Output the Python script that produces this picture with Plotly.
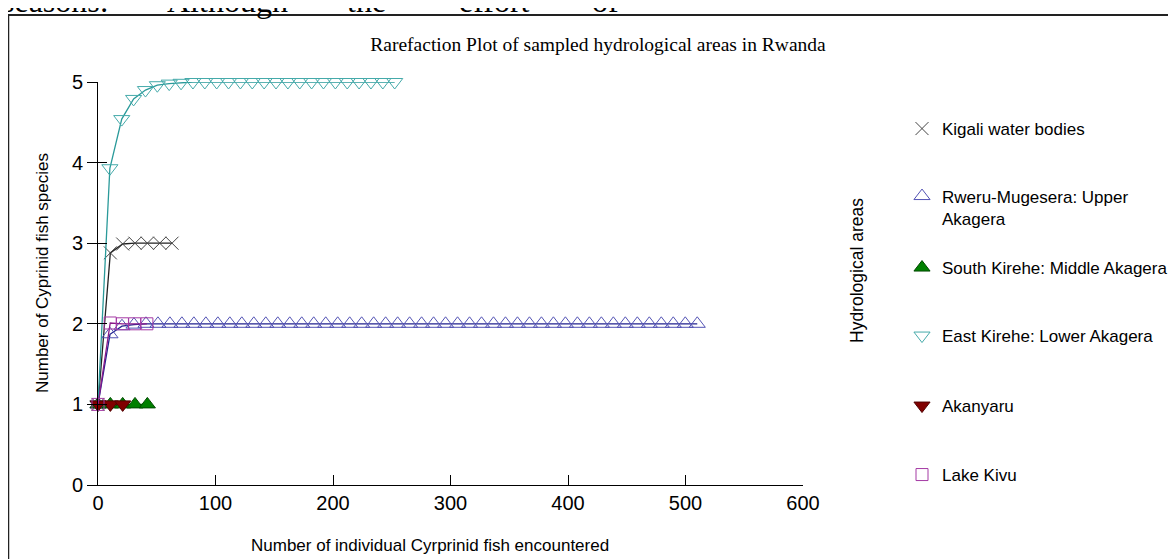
import plotly.graph_objects as go

# ---------------- data ----------------
kigali_x = [0, 10.5, 21, 31.5, 42, 52.5, 63]
kigali_y = [1, 2.88, 2.99, 3, 3, 3, 3]

rweru_x = [0, 10.2, 20.4, 30.6, 40.8, 51, 61.2, 71.4, 81.6, 91.8, 102,
           112.2, 122.4, 132.6, 142.8, 153, 163.2, 173.4, 183.6, 193.8, 204,
           214.2, 224.4, 234.6, 244.8, 255, 265.2, 275.4, 285.6, 295.8, 306,
           316.2, 326.4, 336.6, 346.8, 357, 367.2, 377.4, 387.6, 397.8, 408,
           418.2, 428.4, 438.6, 448.8, 459, 469.2, 479.4, 489.6, 499.8, 510]
rweru_y = [1, 1.87, 1.97, 1.99, 2, 2, 2, 2, 2, 2, 2,
           2, 2, 2, 2, 2, 2, 2, 2, 2, 2,
           2, 2, 2, 2, 2, 2, 2, 2, 2, 2,
           2, 2, 2, 2, 2, 2, 2, 2, 2, 2,
           2, 2, 2, 2, 2, 2, 2, 2, 2, 2]

south_x = [0, 10.5, 21, 31.5, 42]
south_y = [1, 1, 1, 1, 1]

east_x = [0, 10.1, 20.2, 30.3, 40.4, 50.5, 60.6, 70.7, 80.8, 90.9, 101,
          111.1, 121.2, 131.3, 141.4, 151.5, 161.6, 171.7, 181.8, 191.9, 202,
          212.1, 222.2, 232.3, 242.4, 252.5]
east_y = [1, 3.93, 4.54, 4.79, 4.9, 4.96, 4.98, 4.99, 5, 5, 5,
          5, 5, 5, 5, 5, 5, 5, 5, 5, 5,
          5, 5, 5, 5, 5]

akanyaru_x = [0, 10.5, 21]
akanyaru_y = [1, 1, 1]

kivu_x = [0, 10.4, 20.8, 31.2, 41.6]
kivu_y = [1, 2.01, 2, 2, 2]

names = ["Kigali water bodies", "Rweru-Mugesera: Upper<br>Akagera",
         "South Kirehe: Middle Akagera", "East Kirehe: Lower Akagera",
         "Akanyaru", "Lake Kivu"]

x_ticks = [0, 100, 200, 300, 400, 500, 600]
y_ticks = [0, 1, 2, 3, 4, 5]

# ---------------- figure ----------------
fig = go.Figure()

series = [
    (kigali_x, kigali_y, dict(symbol="x-thin", size=13, color="#444444",
                              line=dict(color="#444444", width=1)), "#222222"),
    (rweru_x, rweru_y, dict(symbol="triangle-up-open", size=14, color="#5252b4",
                            line=dict(width=1)), "#22228f"),
    (south_x, south_y, dict(symbol="triangle-up", size=14, color="#008000",
                            line=dict(color="#004a00", width=1)), "#007000"),
    (east_x, east_y, dict(symbol="triangle-down-open", size=14, color="#45aaaa",
                          line=dict(width=1)), "#2a9a9a"),
    (akanyaru_x, akanyaru_y, dict(symbol="triangle-down", size=14, color="#800000",
                                  line=dict(color="#500000", width=1)), "#700000"),
    (kivu_x, kivu_y, dict(symbol="square-open", size=12, color="#a43aa4",
                          line=dict(width=1)), "#8a1a8a"),
]

legend_ids = ["legend", "legend2", "legend3", "legend4", "legend5", "legend6"]
for (xs, ys, mk, lc), nm, lg in zip(series, names, legend_ids):
    fig.add_trace(go.Scatter(x=xs, y=ys, mode="lines", line=dict(color=lc, width=1.3),
                             cliponaxis=False, showlegend=False, hoverinfo="skip"))
    fig.add_trace(go.Scatter(x=xs, y=ys, mode="markers", name=nm, marker=mk,
                             cliponaxis=False, legend=lg))

# overlay axis only to get ticks crossing the y axis line
fig.add_trace(go.Scatter(x=[], y=[], yaxis="y2", showlegend=False))

# The page body has an 8px margin: figure is 1168x551 drawn at page offset (8, 8).
OFF = 8
FW, FH = 1176 - OFF, 559 - OFF
# plot area in page pixels
L, R, T, B = 98, 803, 82, 485
def px_x(p):
    return (p - L) / (R - L)
def px_y(p):
    return (B - p) / (B - T)

legend_centers = [129, 207.5, 268, 336, 406, 475]
leg_font = dict(family="Liberation Sans, Arial, sans-serif", size=17, color="#000000")
for lg, cy in zip(legend_ids, legend_centers):
    fig.update_layout({lg: dict(x=px_x(902), xanchor="left", y=px_y(cy), yanchor="middle",
                                font=leg_font, bgcolor="rgba(0,0,0,0)",
                                valign="top", itemsizing="trace")})

sans = "Liberation Sans, Arial, sans-serif"
serif = "Liberation Serif, Times New Roman, serif"

fig.update_layout(
    width=FW, height=FH,
    margin=dict(l=L - OFF, r=FW - (R - OFF), t=T - OFF, b=FH - (B - OFF), pad=0,
                autoexpand=False),
    paper_bgcolor="white", plot_bgcolor="white",
    title=dict(text="Rarefaction Plot of sampled hydrological areas in Rwanda",
               font=dict(family=serif, size=19.5, color="#000000"),
               xref="container", x=(598 - OFF) / FW, xanchor="center",
               yref="container", y=1 - (44 - OFF) / FH, yanchor="middle"),
    xaxis=dict(range=[0, 600], tickvals=x_ticks, ticks="inside", ticklen=10,
               tickcolor="#000000", showline=True, linecolor="#000000", linewidth=1,
               showgrid=False, zeroline=False,
               tickfont=dict(family=sans, size=20, color="#000000")),
    yaxis=dict(range=[0, 5], tickvals=y_ticks, ticks="outside", ticklen=10,
               tickcolor="#000000", showline=True, linecolor="#000000", linewidth=1,
               showgrid=False, zeroline=False,
               tickfont=dict(family=sans, size=20, color="#000000")),
    yaxis2=dict(range=[0, 5], tickvals=y_ticks, ticks="inside", ticklen=9,
                tickcolor="#000000", overlaying="y", side="left", anchor="x",
                showticklabels=False, showline=False, showgrid=False, zeroline=False),
    showlegend=True,
)

annotations = [
    dict(text="Number of individual Cyrprinid fish encountered", xref="paper", yref="paper",
         x=px_x(430), y=px_y(545), xanchor="center", yanchor="middle", showarrow=False,
         font=dict(family=sans, size=17, color="#000000")),
    dict(text="Number of Cyprinid fish species", xref="paper", yref="paper",
         x=px_x(42), y=px_y(273), xanchor="center", yanchor="middle", showarrow=False,
         textangle=-90, font=dict(family=sans, size=17, color="#000000")),
    dict(text="Hydrological areas", xref="paper", yref="paper",
         x=px_x(857), y=px_y(271), xanchor="center", yanchor="middle", showarrow=False,
         textangle=-90, font=dict(family=sans, size=17.5, color="#000000")),
]
# cut-off document text above the chart frame
doc_words = [("seasons:", 0), ("Although", 165), ("the", 345), ("effort", 457), ("of", 590)]
for w, xp in doc_words:
    annotations.append(dict(text=w, xref="paper", yref="paper", x=px_x(xp), y=px_y(21),
                            xanchor="left", yanchor="bottom", showarrow=False,
                            font=dict(family=serif, size=32, color="#000000")))
fig.update_layout(annotations=annotations)

# frame lines of the embedded figure
fig.add_shape(type="line", xref="paper", yref="paper", x0=px_x(8), x1=px_x(1180),
              y0=px_y(15), y1=px_y(15), line=dict(color="#222222", width=2))
fig.add_shape(type="line", xref="paper", yref="paper", x0=px_x(8.5), x1=px_x(8.5),
              y0=px_y(15), y1=px_y(565), line=dict(color="#222222", width=1.5))

fig.write_html("out.html")
